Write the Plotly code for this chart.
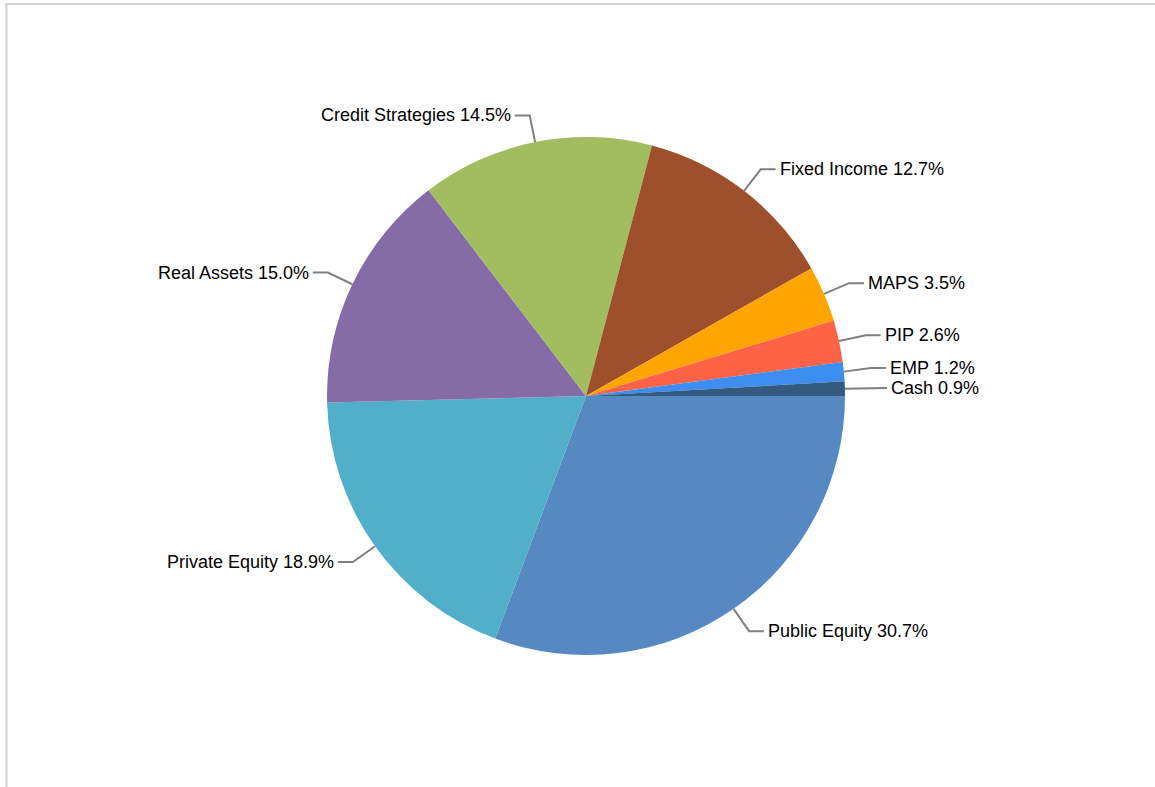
import math
import plotly.graph_objects as go

# ---- data ----
categories = ["Public Equity", "Private Equity", "Real Assets", "Credit Strategies",
              "Fixed Income", "MAPS", "PIP", "EMP", "Cash"]
shares = [30.7, 18.9, 15.0, 14.5, 12.7, 3.5, 2.6, 1.2, 0.9]
colors = ["#5689c2", "#52afca", "#866ca6", "#a1bd5f", "#9e502d",
          "#ffa500", "#ff6347", "#3d8ef0", "#355a80"]

# ---- layout constants (pixels) ----
W, H = 1155, 787
CX, CY, R = 586, 396, 259
R_KINK = 1.105 * R
HSEG = 15
GAP = 20

fig = go.Figure()
fig.add_trace(go.Pie(
    labels=categories, values=shares, sort=False, direction="clockwise",
    rotation=90, textinfo="none", hoverinfo="label+percent",
    marker=dict(colors=colors, line=dict(width=0)),
    domain=dict(x=[(CX - R) / W, (CX + R) / W],
                y=[(H - CY - R) / H, (H - CY + R) / H]),
    showlegend=False,
))

# compute label geometry from the data
total = sum(shares)
start = 0.0  # degrees, counter-clockwise from 3 o'clock; slices run clockwise
items = []
for name, v in zip(categories, shares):
    sweep = 360.0 * v / total
    mid = start - sweep / 2.0
    start -= sweep
    a = math.radians(mid)
    ex, ey = CX + R * math.cos(a), CY - R * math.sin(a)
    ky = CY - R_KINK * math.sin(a)
    side = 1 if math.cos(a) >= 0 else -1
    items.append(dict(name=name, v=v, ex=ex, ey=ey, ky=ky, side=side))

# de-overlap labels on each side: push upward from the bottom
for side in (1, -1):
    group = sorted([it for it in items if it["side"] == side], key=lambda d: -d["ky"])
    for i in range(1, len(group)):
        if group[i - 1]["ky"] - group[i]["ky"] < GAP:
            group[i]["ky"] = group[i - 1]["ky"] - GAP

for it in items:
    dy = it["ky"] - CY
    kx = CX + it["side"] * math.sqrt(max(R_KINK ** 2 - dy ** 2, 0))
    hx = kx + it["side"] * HSEG
    fig.add_trace(go.Scatter(
        x=[it["ex"], kx, hx], y=[it["ey"], it["ky"], it["ky"]],
        mode="lines", line=dict(color="#808080", width=2),
        hoverinfo="skip", showlegend=False, xaxis="x", yaxis="y"))
    fig.add_annotation(
        x=hx + it["side"] * 2, y=it["ky"], xref="x", yref="y",
        text=f"{it['name']} {it['v']:.1f}%", showarrow=False,
        xanchor="left" if it["side"] > 0 else "right", yanchor="middle",
        font=dict(family="Liberation Sans, Arial, sans-serif", size=18, color="#000000"))

# frame lines (top and left)
fig.add_shape(type="line", xref="paper", yref="paper",
              x0=5 / W, x1=1, y0=1 - 4 / H, y1=1 - 4 / H,
              line=dict(color="#d0d0d0", width=2))
fig.add_shape(type="line", xref="paper", yref="paper",
              x0=6.5 / W, x1=6.5 / W, y0=0, y1=1 - 4 / H,
              line=dict(color="#d0d0d0", width=2))

fig.update_layout(
    width=W, height=H, margin=dict(l=0, r=0, t=0, b=0),
    paper_bgcolor="white", plot_bgcolor="rgba(0,0,0,0)",
    xaxis=dict(range=[0, W], visible=False, domain=[0, 1], fixedrange=True),
    yaxis=dict(range=[H, 0], visible=False, domain=[0, 1], fixedrange=True),
    showlegend=False,
)

fig.write_html("out.html")
